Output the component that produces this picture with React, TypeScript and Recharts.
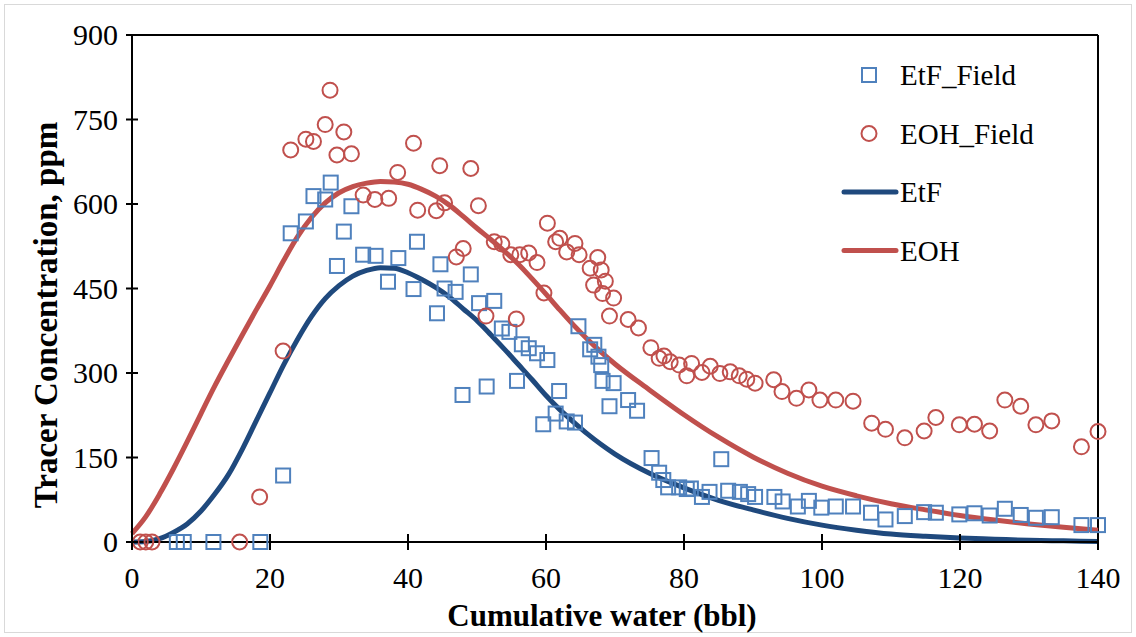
import {
  ComposedChart,
  Line,
  Scatter,
  XAxis,
  YAxis,
  ReferenceLine,
  Legend
} from 'recharts';

const FONT = '"Liberation Serif", "Times New Roman", serif';

// field samples (bbl, ppm)
const etfFieldX = [6.5, 7.5, 11.8, 18.6, 21.9, 23.0, 25.2, 26.3, 28.0, 28.8, 29.7, 30.7, 31.8, 33.5, 35.3, 37.1, 38.6, 40.8, 41.3, 44.2, 44.7, 45.3, 46.9, 47.9, 49.1, 50.3, 51.4, 52.5, 53.6, 54.7, 55.8, 56.5, 57.5, 58.7, 59.6, 60.2, 61.4, 61.9, 63.0, 64.2, 64.7, 66.4, 67.0, 67.6, 68.0, 68.2, 69.2, 69.8, 71.9, 73.2, 75.3, 76.4, 77.0, 77.7, 79.3, 80.4, 81.0, 82.6, 83.7, 85.4, 86.4, 88.1, 89.3, 90.3, 93.1, 94.3, 96.5, 98.1, 99.9, 102.0, 104.5, 107.1, 109.2, 112.0, 114.8, 116.5, 119.9, 122.1, 124.3, 126.5, 128.8, 131.0, 133.3, 137.6, 140.0];
const etfFieldY = [0, 0, 0, 0, 118, 548, 569, 614, 608, 638, 490, 551, 596, 510, 508, 462, 504, 449, 533, 406, 493, 450, 444, 261, 475, 424, 276, 428, 379, 373, 286, 351, 344, 335, 209, 323, 228, 268, 214, 212, 383, 342, 350, 329, 314, 286, 241, 282, 252, 233, 149, 123, 110, 97, 97, 94, 95, 80, 89, 147, 91, 89, 85, 80, 80, 72, 63, 73, 61, 63, 63, 52, 40, 46, 53, 52, 49, 51, 47, 59, 48, 43, 44, 30, 30];

const eohFieldX = [1.2, 2.0, 2.9, 15.6, 18.5, 21.9, 23.0, 25.2, 26.3, 28.0, 28.7, 29.7, 30.7, 31.8, 33.5, 35.2, 37.2, 38.5, 40.8, 41.4, 44.1, 44.6, 45.3, 47.0, 48.0, 49.1, 50.2, 51.3, 52.5, 53.6, 54.9, 55.7, 56.2, 57.5, 58.7, 59.7, 60.2, 61.4, 62.0, 63.0, 64.2, 64.8, 66.4, 66.9, 67.5, 68.0, 68.2, 68.6, 69.2, 69.8, 71.9, 73.4, 75.2, 76.4, 77.1, 78.0, 79.3, 80.4, 81.1, 82.6, 83.8, 85.2, 86.7, 88.0, 89.1, 90.3, 93.0, 94.2, 96.3, 98.1, 99.7, 102.0, 104.5, 107.2, 109.2, 112.0, 114.8, 116.5, 119.9, 122.1, 124.3, 126.5, 128.8, 131.0, 133.3, 137.6, 140.0];
const eohFieldY = [0, 0, 0, 0, 80, 339, 696, 715, 711, 741, 802, 687, 728, 689, 616, 608, 610, 656, 708, 589, 588, 668, 602, 506, 521, 663, 597, 401, 533, 529, 510, 396, 510, 513, 496, 442, 566, 533, 539, 515, 530, 510, 486, 456, 505, 483, 441, 463, 401, 433, 395, 380, 345, 326, 330, 320, 314, 295, 317, 301, 312, 299, 302, 295, 289, 282, 288, 267, 255, 270, 252, 252, 250, 211, 200, 185, 197, 221, 208, 209, 197, 252, 241, 208, 215, 169, 196];

// model curves
const modelX = [0, 2, 4, 6, 8, 10, 12, 14, 16, 18, 20, 22, 24, 26, 28, 30, 32, 34, 36, 38, 40, 42, 44, 46, 48, 50, 52, 54, 56, 58, 60, 62, 64, 66, 68, 70, 75, 80, 85, 90, 95, 100, 105, 110, 115, 120, 125, 130, 135, 140];
const etfModel = [0, 1, 6, 17, 32, 55, 85, 120, 165, 215, 265, 315, 360, 400, 432, 455, 472, 482, 487, 486, 478, 466, 452, 435, 414, 393, 368, 342, 315, 288, 260, 235, 213, 192, 173, 156, 122, 96, 74, 57, 42, 30, 21, 14, 10, 7, 5, 3, 2, 1];
const eohModel = [15, 45, 85, 130, 178, 228, 277, 323, 368, 412, 455, 500, 542, 576, 602, 620, 631, 637, 640, 639, 635, 626, 614, 598, 578, 557, 537, 516, 493, 467, 440, 412, 385, 360, 337, 316, 270, 226, 186, 151, 122, 99, 82, 68, 57, 47, 39, 32, 26, 21];

const xTicks = [0, 20, 40, 60, 80, 100, 120, 140];
const yTicks = [0, 150, 300, 450, 600, 750, 900];

const legendItems = [
  { name: 'EtF_Field', kind: 'square', color: '#4F81BD' },
  { name: 'EOH_Field', kind: 'circle', color: '#C0504D' },
  { name: 'EtF', kind: 'line', color: '#1F497D' },
  { name: 'EOH', kind: 'line', color: '#C0504D' }
];

const etfField = etfFieldX.map((x, i) => ({ x, y: etfFieldY[i] }));
const eohField = eohFieldX.map((x, i) => ({ x, y: eohFieldY[i] }));
const etfLine = modelX.map((x, i) => ({ x, y: etfModel[i] }));
const eohLine = modelX.map((x, i) => ({ x, y: eohModel[i] }));

const XTick = (props: any) => {
  const { x, y, payload } = props;
  return (
    <g>
      <line x1={x} x2={x} y1={y - 8} y2={y + 8} stroke="#000" strokeWidth={2} />
      <text x={x} y={y + 46} textAnchor="middle" fontSize={30} fontFamily={FONT} fill="#000">
        {payload.value}
      </text>
    </g>
  );
};

const YTick = (props: any) => {
  const { x, y, payload } = props;
  return (
    <g>
      <line x1={x - 6} x2={x + 6} y1={y} y2={y} stroke="#000" strokeWidth={2} />
      <text x={x - 14} y={y + 10} textAnchor="end" fontSize={30} fontFamily={FONT} fill="#000">
        {payload.value}
      </text>
    </g>
  );
};

const SquareDot = (props: any) => (
  <rect x={props.cx - 7} y={props.cy - 7} width={14} height={14} fill="none" stroke="#4F81BD" strokeWidth={2} />
);

const CircleDot = (props: any) => (
  <circle cx={props.cx} cy={props.cy} r={7.5} fill="none" stroke="#C0504D" strokeWidth={2} />
);

const LegendBox = () => (
  <svg width={230} height={230}>
    {legendItems.map((item, i) => {
      const cy = 30 + i * 58.5;
      return (
        <g key={item.name}>
          {item.kind === 'square' && (
            <rect x={27} y={cy - 7} width={14} height={14} fill="none" stroke={item.color} strokeWidth={2} />
          )}
          {item.kind === 'circle' && (
            <circle cx={34} cy={cy} r={7.5} fill="none" stroke={item.color} strokeWidth={2} />
          )}
          {item.kind === 'line' && (
            <line x1={9} x2={61} y1={cy} y2={cy} stroke={item.color} strokeWidth={5} strokeLinecap="round" />
          )}
          <text x={65} y={cy + 10} fontSize={29} fontFamily={FONT} fill="#000">
            {item.name}
          </text>
        </g>
      );
    })}
  </svg>
);

export default function App() {
  return (
    <div style={{ position: 'absolute', left: 0, top: 0, width: 1136, height: 637, background: '#fff' }}>
      <div
        style={{
          position: 'absolute',
          left: 4,
          top: 4,
          width: 1126,
          height: 627,
          border: '1px solid #d9d9d9',
          pointerEvents: 'none'
        }}
      />
      <ComposedChart
        width={1136}
        height={637}
        margin={{ top: 35, right: 38, left: 0, bottom: 0 }}
      >
        <XAxis
          dataKey="x"
          type="number"
          domain={[0, 140]}
          ticks={xTicks}
          height={95}
          tickSize={0}
          tickMargin={0}
          tickLine={false}
          tick={<XTick />}
          axisLine={{ stroke: '#000', strokeWidth: 2 }}
          interval={0}
          label={{
            content: () => (
              <text x={602} y={626} textAnchor="middle" fontSize={31} fontWeight="bold" fontFamily={FONT} fill="#000">
                Cumulative water (bbl)
              </text>
            )
          }}
        />
        <YAxis
          dataKey="y"
          type="number"
          domain={[0, 900]}
          ticks={yTicks}
          width={132}
          tickSize={0}
          tickMargin={0}
          tickLine={false}
          tick={<YTick />}
          axisLine={{ stroke: '#000', strokeWidth: 2 }}
          interval={0}
          label={{
            content: () => (
              <text
                x={0}
                y={0}
                transform="translate(57 315) rotate(-90)"
                textAnchor="middle"
                fontSize={33}
                fontWeight="bold"
                fontFamily={FONT}
                fill="#000"
              >
                Tracer Concentration, ppm
              </text>
            )
          }}
        />
        <ReferenceLine y={900} stroke="#000" strokeWidth={2} />
        <ReferenceLine x={140} stroke="#000" strokeWidth={2} />
        <Line
          data={etfLine}
          dataKey="y"
          type="monotone"
          stroke="#1F497D"
          strokeWidth={5}
          dot={false}
          isAnimationActive={false}
        />
        <Line
          data={eohLine}
          dataKey="y"
          type="monotone"
          stroke="#C0504D"
          strokeWidth={5}
          dot={false}
          isAnimationActive={false}
        />
        <Scatter data={etfField} dataKey="y" shape={<SquareDot />} isAnimationActive={false} />
        <Scatter data={eohField} dataKey="y" shape={<CircleDot />} isAnimationActive={false} />
        <Legend
          layout="vertical"
          align="center"
          verticalAlign="middle"
          content={<LegendBox />}
          wrapperStyle={{ left: 835, top: 45, width: 230 }}
        />
      </ComposedChart>
    </div>
  );
}
